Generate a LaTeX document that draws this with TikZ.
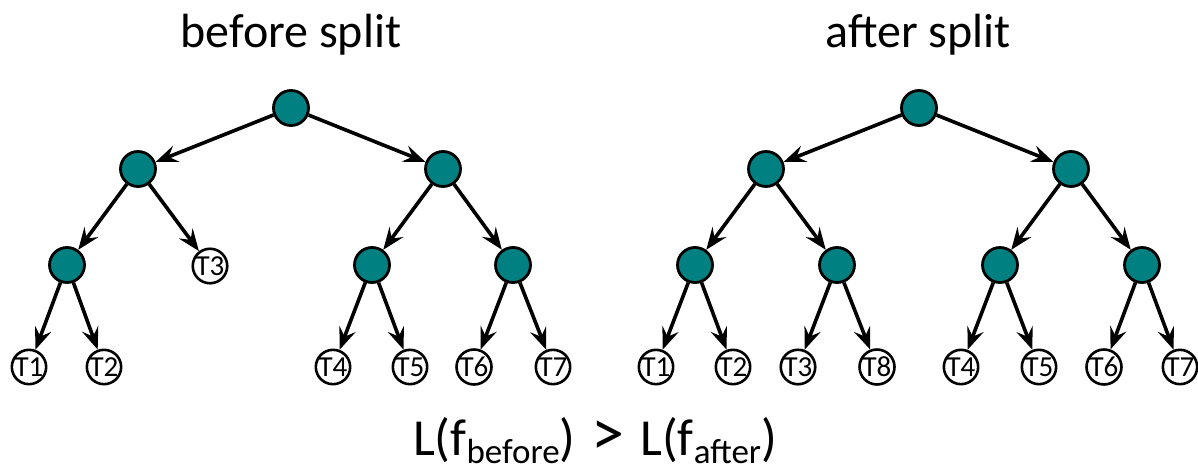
\documentclass[tikz,border=0pt]{standalone}
\usepackage{fontspec}
\setmainfont{Carlito}
\usetikzlibrary{arrows.meta}
\definecolor{nodeteal}{RGB}{0,128,128}
\begin{document}
\begin{tikzpicture}[x=1pt,y=-1pt,
  inner/.style={circle,draw=black,fill=nodeteal,line width=2.8pt,minimum size=35pt,inner sep=0pt},
  leaf/.style={circle,draw=black,fill=white,line width=2.6pt,minimum size=34pt,inner sep=0pt,font=\fontsize{29}{29}\selectfont},
  edge/.style={line width=3.6pt,-{Stealth[length=22pt,width=17pt,inset=8pt]}},
  title/.style={anchor=base,inner sep=0pt,font=\fontsize{48}{58}\selectfont}]
\useasboundingbox (0,0) rectangle (1198,471);
% titles
\node[title] (tbefore) at (291,47) {before split};
\node[title] (tafter) at (918,47) {after split};
% left tree
\node[inner] (lr) at (291,108) {};
\node[inner] (la) at (138,169) {};
\node[inner] (lb) at (443,169) {};
\node[inner] (laa) at (67,265) {};
\node[leaf] (lt3) at (210,266) {T3};
\node[inner] (lba) at (372,265) {};
\node[inner] (lbb) at (513,265) {};
\node[leaf] (lt1) at (29,367) {T1};
\node[leaf] (lt2) at (104,367) {T2};
\node[leaf] (lt4) at (333,367) {T4};
\node[leaf] (lt5) at (410,367) {T5};
\node[leaf] (lt6) at (474,367) {T6};
\node[leaf] (lt7) at (553,367) {T7};
\draw[edge] (lr) -- (la);
\draw[edge] (lr) -- (lb);
\draw[edge] (la) -- (laa);
\draw[edge] (la) -- (lt3);
\draw[edge] (lb) -- (lba);
\draw[edge] (lb) -- (lbb);
\draw[edge] (laa) -- (lt1);
\draw[edge] (laa) -- (lt2);
\draw[edge] (lba) -- (lt4);
\draw[edge] (lba) -- (lt5);
\draw[edge] (lbb) -- (lt6);
\draw[edge] (lbb) -- (lt7);
% right tree
\node[inner] (rr) at (919,108) {};
\node[inner] (ra) at (766,169) {};
\node[inner] (rb) at (1071,169) {};
\node[inner] (raa) at (695,265) {};
\node[inner] (rab) at (837,265) {};
\node[inner] (rba) at (1000,265) {};
\node[inner] (rbb) at (1142,265) {};
\node[leaf] (rt1) at (656,367) {T1};
\node[leaf] (rt2) at (733,367) {T2};
\node[leaf] (rt3) at (798,367) {T3};
\node[leaf] (rt8) at (877,367) {T8};
\node[leaf] (rt4) at (961,367) {T4};
\node[leaf] (rt5) at (1039,367) {T5};
\node[leaf] (rt6) at (1104,367) {T6};
\node[leaf] (rt7) at (1180,367) {T7};
\draw[edge] (rr) -- (ra);
\draw[edge] (rr) -- (rb);
\draw[edge] (ra) -- (raa);
\draw[edge] (ra) -- (rab);
\draw[edge] (rb) -- (rba);
\draw[edge] (rb) -- (rbb);
\draw[edge] (raa) -- (rt1);
\draw[edge] (raa) -- (rt2);
\draw[edge] (rab) -- (rt3);
\draw[edge] (rab) -- (rt8);
\draw[edge] (rba) -- (rt4);
\draw[edge] (rba) -- (rt5);
\draw[edge] (rbb) -- (rt6);
\draw[edge] (rbb) -- (rt7);
% formula
\node[anchor=base,inner sep=0pt] (formula) at (595,455) {\fontsize{52}{60}\selectfont L(f\raisebox{-8pt}{\fontsize{35}{35}\selectfont before})\hspace{16pt}{\fontsize{66}{66}\selectfont >}\hspace{16pt}L(f\raisebox{-8pt}{\fontsize{35}{35}\selectfont after})};
\end{tikzpicture}
\end{document}
